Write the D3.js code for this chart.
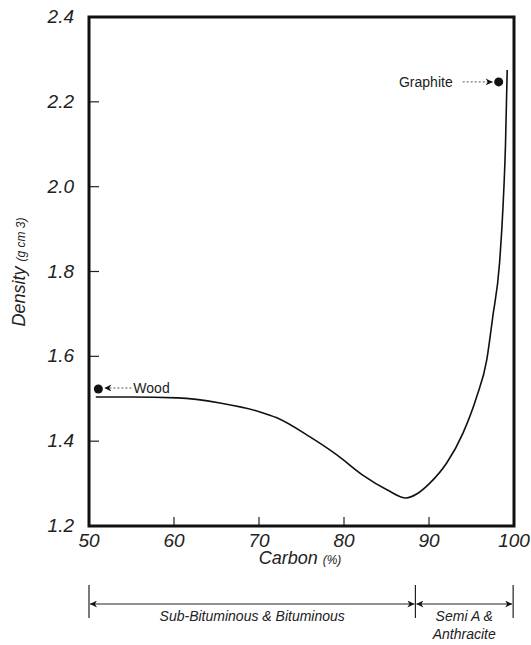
<!DOCTYPE html>
<html>
<head>
<meta charset="utf-8">
<script src="https://cdn.jsdelivr.net/npm/d3@7"></script>
<style>
body { margin: 0; background: #fff; }
text { font-family: "Liberation Sans", Arial, sans-serif; }
</style>
</head>
<body>
<script>
// carbon (%) vs density (g/cm3)
var carbon = [50.8, 55, 60.4, 65.4, 70.1, 72.1, 76.0, 79.2, 82.2, 85.1, 87.3, 88.6, 90.1, 92.1, 94.0, 95.6, 96.8, 97.5, 98.3, 98.7, 99.0, 99.2];
var density = [1.504, 1.504, 1.502, 1.490, 1.469, 1.455, 1.410, 1.367, 1.320, 1.285, 1.266, 1.276, 1.301, 1.349, 1.419, 1.504, 1.592, 1.693, 1.82, 1.95, 2.10, 2.275];
var xTicks = [50, 60, 70, 80, 90, 100];
var yTicks = [1.2, 1.4, 1.6, 1.8, 2.0, 2.2, 2.4];
var markers = [{ name: "Wood", c: 51.1, d: 1.523 }, { name: "Graphite", c: 98.2, d: 2.247 }];
var rankEdges = [50, 88.4, 99.9];
var rankNames = [["Sub-Bituminous & Bituminous"], ["Semi A  &", "Anthracite"]];

var width = 531, height = 645;
var svg = d3.select("body").append("svg")
	.attr("width", width)
	.attr("height", height);

var x = d3.scaleLinear().domain([50, 100]).range([89, 514]);
var y = d3.scaleLinear().domain([1.2, 2.4]).range([526, 17]);

// arrow heads
var defs = svg.append("defs");
defs.append("marker").attr("id", "head")
	.attr("viewBox", "0 0 10 10").attr("refX", 10).attr("refY", 5)
	.attr("markerWidth", 10).attr("markerHeight", 7).attr("orient", "auto-start-reverse")
	.attr("markerUnits", "userSpaceOnUse")
	.append("path").attr("d", "M0,0 L10,5 L0,10 L3,5 Z").attr("fill", "#111");

// ticks (inside the frame)
svg.append("g").selectAll("line").data(yTicks.slice(1, -1)).enter().append("line")
	.attr("x1", x(50)).attr("x2", x(50) + 10)
	.attr("y1", function(d) { return y(d); }).attr("y2", function(d) { return y(d); })
	.attr("stroke", "#222").attr("stroke-width", 1.2);
svg.append("g").selectAll("line").data(xTicks.slice(1, -1)).enter().append("line")
	.attr("x1", function(d) { return x(d); }).attr("x2", function(d) { return x(d); })
	.attr("y1", y(1.2)).attr("y2", y(1.2) - 9)
	.attr("stroke", "#222").attr("stroke-width", 1.2);

// frame
svg.append("rect")
	.attr("x", x(50)).attr("y", y(2.4))
	.attr("width", x(100) - x(50)).attr("height", y(1.2) - y(2.4))
	.attr("fill", "none").attr("stroke", "#111").attr("stroke-width", 3);

// tick labels
svg.append("g").selectAll("text").data(yTicks).enter().append("text")
	.attr("x", 74).attr("y", function(d) { return y(d) + 6; })
	.attr("text-anchor", "end").attr("font-size", 19).style("font-style", "italic")
	.attr("fill", "#222")
	.text(function(d) { return d.toFixed(1); });
svg.append("g").selectAll("text").data(xTicks).enter().append("text")
	.attr("x", function(d) { return x(d); }).attr("y", 547)
	.attr("text-anchor", "middle").attr("font-size", 19).style("font-style", "italic")
	.attr("fill", "#222")
	.text(function(d) { return d; });

// axis titles
var yt = svg.append("text")
	.attr("transform", "translate(25,272) rotate(-90)")
	.attr("text-anchor", "middle").style("font-style", "italic").attr("fill", "#222");
yt.append("tspan").attr("font-size", 18).text("Density ");
yt.append("tspan").attr("font-size", 12).text(" (g cm 3)");

var xt = svg.append("text")
	.attr("x", 300).attr("y", 564)
	.attr("text-anchor", "middle").style("font-style", "italic").attr("fill", "#222");
xt.append("tspan").attr("font-size", 18).text("Carbon ");
xt.append("tspan").attr("font-size", 12).text(" (%)");

// curve
var pts = carbon.map(function(c, i) { return [c, density[i]]; });
var line = d3.line()
	.x(function(d) { return x(d[0]); })
	.y(function(d) { return y(d[1]); })
	.curve(d3.curveMonotoneX);
svg.append("path").datum(pts)
	.attr("d", line)
	.attr("fill", "none").attr("stroke", "#111").attr("stroke-width", 1.6);

// markers and labels
svg.selectAll("circle.pt").data(markers).enter().append("circle")
	.attr("class", "pt")
	.attr("cx", function(d) { return x(d.c); }).attr("cy", function(d) { return y(d.d); })
	.attr("r", 4.5).attr("fill", "#111");

var wood = markers[0], graph = markers[1];
svg.append("line")
	.attr("x1", x(wood.c) + 33).attr("y1", y(wood.d) - 1)
	.attr("x2", x(wood.c) + 6).attr("y2", y(wood.d) - 1)
	.attr("stroke", "#555").attr("stroke-dasharray", "2,2").attr("marker-end", "url(#head)");
svg.append("text")
	.attr("x", x(wood.c) + 35).attr("y", y(wood.d) + 4)
	.attr("font-size", 14).attr("fill", "#222").text(wood.name);

svg.append("line")
	.attr("x1", x(graph.c) - 36).attr("y1", y(graph.d))
	.attr("x2", x(graph.c) - 6).attr("y2", y(graph.d))
	.attr("stroke", "#555").attr("stroke-dasharray", "2,2").attr("marker-end", "url(#head)");
svg.append("text")
	.attr("x", x(graph.c) - 46).attr("y", y(graph.d) + 5)
	.attr("text-anchor", "end")
	.attr("font-size", 14).attr("fill", "#222").text(graph.name);

// rank brackets under the axis
var bracket = svg.append("g");
bracket.selectAll("line.edge").data(rankEdges).enter().append("line")
	.attr("class", "edge")
	.attr("x1", function(d) { return x(d); }).attr("x2", function(d) { return x(d); })
	.attr("y1", 585).attr("y2", 618)
	.attr("stroke", "#222").attr("stroke-width", 1.2);
for (var k = 0; k < rankEdges.length - 1; k++) {
	bracket.append("line")
		.attr("x1", x(rankEdges[k]) + 1).attr("x2", x(rankEdges[k + 1]) - 1)
		.attr("y1", 604).attr("y2", 604)
		.attr("stroke", "#222").attr("stroke-width", 1)
		.attr("marker-start", "url(#head)").attr("marker-end", "url(#head)");
	var mid = (x(rankEdges[k]) + x(rankEdges[k + 1])) / 2;
	rankNames[k].forEach(function(s, j) {
		bracket.append("text")
			.attr("x", mid).attr("y", 621 + j * 18)
			.attr("text-anchor", "middle").attr("font-size", 14).style("font-style", "italic")
			.attr("fill", "#222").text(s);
	});
}
</script>
</body>
</html>
